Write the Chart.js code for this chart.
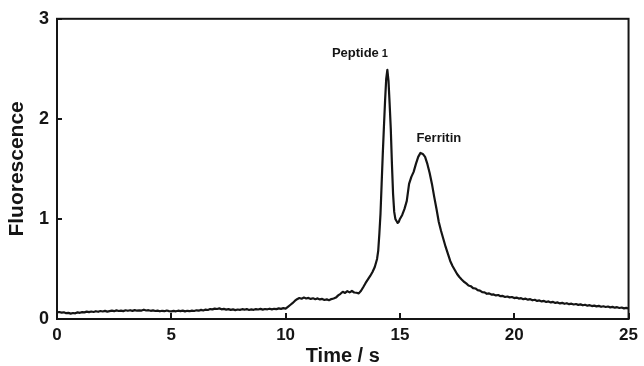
<!DOCTYPE html>
<html>
<head>
<meta charset="utf-8">
<script src="https://cdn.jsdelivr.net/npm/chart.js@4/dist/chart.umd.min.js"></script>
<style>
  html, body { margin: 0; padding: 0; background: #fff; }
  #wrap { width: 644px; height: 366px; }
</style>
</head>
<body>
<div id="wrap"><canvas id="c" width="644" height="366"></canvas></div>
<script>
// Baseline segment, 0 - 10 s
const baseTime = [
  0.0,0.1,0.2,0.3,0.4,0.5,0.6,0.7,0.8,0.9,1.0,1.1,1.2,1.3,1.4,1.5,1.6,1.7,1.8,1.9,
  2.0,2.1,2.2,2.3,2.4,2.5,2.6,2.7,2.8,2.9,3.0,3.1,3.2,3.3,3.4,3.5,3.6,3.7,3.8,3.9,
  4.0,4.1,4.2,4.3,4.4,4.5,4.6,4.7,4.8,4.9,5.0,5.1,5.2,5.3,5.4,5.5,5.6,5.7,5.8,5.9,
  6.0,6.1,6.2,6.3,6.4,6.5,6.6,6.7,6.8,6.9,7.0,7.1,7.2,7.3,7.4,7.5,7.6,7.7,7.8,7.9,
  8.0,8.1,8.2,8.3,8.4,8.5,8.6,8.7,8.8,8.9,9.0,9.1,9.2,9.3,9.4,9.5,9.6,9.7,9.8,9.9,10.0
];
const baseValue = [
  0.066,0.070,0.064,0.067,0.058,0.061,0.054,0.060,0.057,0.066,0.062,0.069,0.066,0.074,0.069,0.075,0.070,0.078,0.072,0.080,
  0.075,0.081,0.074,0.079,0.083,0.078,0.086,0.080,0.084,0.079,0.087,0.082,0.088,0.081,0.089,0.083,0.087,0.084,0.093,0.085,
  0.088,0.082,0.086,0.080,0.084,0.077,0.082,0.078,0.085,0.079,0.076,0.081,0.077,0.083,0.079,0.084,0.076,0.082,0.078,0.084,
  0.080,0.087,0.083,0.091,0.085,0.094,0.090,0.099,0.096,0.104,0.100,0.106,0.097,0.101,0.094,0.099,0.091,0.096,0.089,0.095,
  0.091,0.098,0.093,0.099,0.090,0.096,0.092,0.099,0.095,0.101,0.094,0.100,0.097,0.103,0.096,0.102,0.099,0.106,0.101,0.109,0.104
];
// Pre-peak segment, 10.1 - 13.3 s
const preTime = [
  10.1,10.2,10.3,10.4,10.5,10.6,10.7,10.8,10.9,11.0,11.1,11.2,11.3,11.4,11.5,11.6,11.7,
  11.8,11.9,12.0,12.1,12.2,12.3,12.4,12.5,12.6,12.7,12.8,12.9,13.0,13.1,13.2,13.3
];
const preValue = [
  0.122,0.140,0.158,0.180,0.198,0.210,0.203,0.214,0.205,0.211,0.201,0.207,0.198,0.206,0.196,0.201,0.190,
  0.196,0.188,0.199,0.205,0.214,0.236,0.252,0.272,0.260,0.278,0.266,0.280,0.265,0.262,0.256,0.282
];
// Peptide 1 and Ferritin peaks, 13.4 - 17.6 s
const peakTime = [
  13.4,13.5,13.6,13.7,13.8,13.9,14.0,
  14.05,14.1,14.15,14.2,14.25,14.3,14.35,14.4,14.45,14.5,14.55,14.6,14.65,14.7,14.75,14.8,14.85,14.9,14.95,15.0,
  15.1,15.2,15.3,15.4,15.5,15.6,15.7,15.8,15.9,16.0,16.1,16.2,16.3,16.4,16.5,16.6,16.7,16.8,16.9,17.0,17.1,17.2,17.3,17.4,17.5,17.6
];
const peakValue = [
  0.320,0.360,0.395,0.430,0.470,0.520,0.600,
  0.680,0.850,1.05,1.35,1.65,1.92,2.18,2.40,2.49,2.38,2.15,1.90,1.55,1.25,1.07,1.00,0.98,0.96,0.97,1.00,
  1.04,1.10,1.18,1.35,1.42,1.47,1.55,1.62,1.66,1.65,1.62,1.55,1.46,1.35,1.22,1.10,0.97,0.88,0.80,0.72,0.65,0.58,0.53,0.49,0.45,0.42
];
// Tail segment, 17.7 - 25 s
const tailTime = [
  17.7,17.8,17.9,18.0,18.1,18.2,18.3,18.4,18.5,18.6,18.7,18.8,18.9,19.0,19.1,19.2,19.3,19.4,19.5,19.6,19.7,19.8,19.9,
  20.0,20.1,20.2,20.3,20.4,20.5,20.6,20.7,20.8,20.9,21.0,21.1,21.2,21.3,21.4,21.5,21.6,21.7,21.8,21.9,
  22.0,22.1,22.2,22.3,22.4,22.5,22.6,22.7,22.8,22.9,23.0,23.1,23.2,23.3,23.4,23.5,23.6,23.7,23.8,23.9,
  24.0,24.1,24.2,24.3,24.4,24.5,24.6,24.7,24.8,24.9,25.0
];
const tailValue = [
  0.395,0.372,0.356,0.335,0.328,0.309,0.305,0.288,0.284,0.268,0.266,0.252,0.256,0.244,0.246,0.236,0.240,0.228,0.231,0.220,0.225,0.216,0.220,
  0.209,0.214,0.204,0.208,0.198,0.203,0.193,0.198,0.187,0.192,0.181,0.186,0.176,0.181,0.170,0.176,0.166,0.171,0.161,0.166,
  0.156,0.161,0.152,0.158,0.148,0.153,0.145,0.150,0.141,0.146,0.137,0.142,0.133,0.138,0.129,0.134,0.126,0.131,0.122,0.127,
  0.120,0.125,0.116,0.121,0.113,0.118,0.110,0.115,0.106,0.111,0.105
];
const xTicks = [0, 5, 10, 15, 20, 25];
const yTicks = [0, 1, 2, 3];
const peakLabels = ["Peptide", "Ferritin"];
const peakLabelT = [13.27, 16.7];
const peakLabelV = [2.615, 1.77];

const timeS = [].concat(baseTime, preTime, peakTime, tailTime);
const fluorescence = [].concat(baseValue, preValue, peakValue, tailValue);
const n = Math.min(timeS.length, fluorescence.length);
const points = [];
for (let i = 0; i < n; i++) points.push({ x: timeS[i], y: fluorescence[i] });
const INK = '#151515';
const FONT = '"Liberation Sans", Arial, sans-serif';

const framePlugin = {
  id: 'frame',
  afterDatasetsDraw(chart) {
    const { ctx, chartArea: a, scales: { x, y } } = chart;
    ctx.save();
    ctx.strokeStyle = INK;
    ctx.lineWidth = 2;
    ctx.strokeRect(a.left, a.top, a.right - a.left, a.bottom - a.top);
    ctx.beginPath();
    xTicks.forEach(v => {
      const px = Math.round(x.getPixelForValue(v));
      ctx.moveTo(px, a.bottom);
      ctx.lineTo(px, a.bottom - 6);
    });
    yTicks.forEach(v => {
      const py = Math.round(y.getPixelForValue(v));
      ctx.moveTo(a.left, py);
      ctx.lineTo(a.left + 5, py);
    });
    ctx.stroke();
    ctx.fillStyle = INK;
    ctx.textBaseline = 'alphabetic';
    ctx.textAlign = 'left';
    let px = x.getPixelForValue(peakLabelT[0]);
    let py = y.getPixelForValue(peakLabelV[0]);
    ctx.font = 'bold 13px ' + FONT;
    const w = ctx.measureText(peakLabels[0]).width;
    const total = w + 3 + 7;
    ctx.fillText(peakLabels[0], px - total / 2, py);
    ctx.font = 'bold 11px ' + FONT;
    ctx.fillText('1', px - total / 2 + w + 3, py);
    px = x.getPixelForValue(peakLabelT[1]);
    py = y.getPixelForValue(peakLabelV[1]);
    ctx.font = 'bold 13px ' + FONT;
    ctx.textAlign = 'center';
    ctx.fillText(peakLabels[1], px, py);
    ctx.restore();
  }
};

new Chart(document.getElementById('c'), {
  type: 'line',
  data: {
    datasets: [{
      data: points,
      borderColor: INK,
      borderWidth: 2.2,
      borderJoinStyle: 'round',
      borderCapStyle: 'round',
      pointRadius: 0,
      tension: 0,
      fill: false
    }]
  },
  options: {
    responsive: false,
    animation: false,
    layout: { padding: { top: 18, right: 14, left: 0, bottom: 0 } },
    plugins: { legend: { display: false }, tooltip: { enabled: false } },
    scales: {
      x: {
        type: 'linear',
        min: 0, max: 25,
        afterFit(s) { s.height = 47; },
        afterBuildTicks(s) { s.ticks = xTicks.map(v => ({ value: v })); },
        grid: { display: false, drawTicks: false },
        border: { display: false },
        ticks: {
          padding: 6,
          color: INK,
          maxRotation: 0,
          font: { family: FONT, size: 17, weight: 'bold' }
        },
        title: {
          display: true,
          text: 'Time / s',
          color: INK,
          padding: { top: 0, bottom: 0 },
          font: { family: FONT, size: 20, weight: 'bold', lineHeight: 1 }
        }
      },
      y: {
        min: 0, max: 3,
        afterFit(s) { s.width = 57; },
        afterBuildTicks(s) { s.ticks = yTicks.map(v => ({ value: v })); },
        grid: { display: false, drawTicks: false },
        border: { display: false },
        ticks: {
          padding: 8,
          color: INK,
          font: { family: FONT, size: 18, weight: 'bold' }
        },
        title: {
          display: true,
          text: 'Fluorescence',
          color: INK,
          padding: { top: 7, bottom: 0 },
          font: { family: FONT, size: 21, weight: 'bold', lineHeight: 1 }
        }
      }
    }
  },
  plugins: [framePlugin]
});
</script>
</body>
</html>
